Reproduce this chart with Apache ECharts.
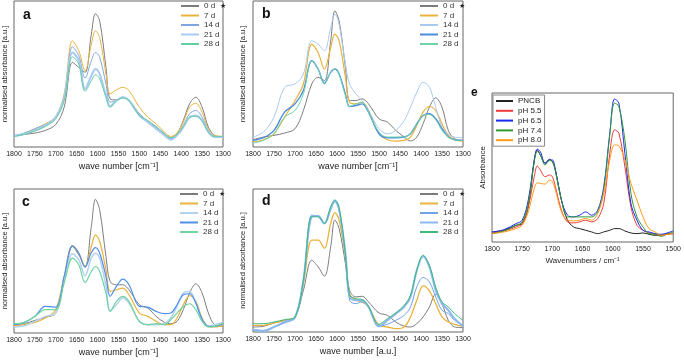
<!DOCTYPE html>
<html>
<head>
<meta charset="utf-8">
<script src="https://cdn.jsdelivr.net/npm/echarts@6/dist/echarts.min.js"></script>
<style>
html, body { margin: 0; padding: 0; background: #fff; }
#chart { width: 684px; height: 360px; }
</style>
</head>
<body>
<div id="chart"></div>
<script>
// wave numbers (cm-1) sampled for panels a-d and e
const waveAD = [1800,1775,1750,1725,1700,1680,1660,1645,1630,1615,1605,1595,1580,1570,1555,1540,1525,1500,1480,1460,1440,1425,1410,1395,1380,1365,1350,1335,1320,1300];
const waveE = [1800,1780,1760,1750,1740,1730,1725,1720,1712,1705,1700,1695,1685,1675,1665,1655,1645,1635,1625,1615,1605,1597,1590,1580,1570,1560,1550,1540,1530,1520,1510,1500];

const days = ['0 d', '7 d', '14 d', '21 d', '28 d'];
const phLabels = ['PNCB', 'pH 5.5', 'pH 6.5', 'pH 7.4', 'pH 8.0'];

// panel a
const a0d = [32,38,42,50,68,120,255,240,225,340,402,380,240,145,142,150,140,100,75,60,40,28,40,80,130,150,120,60,35,30];
const a7d = [32,42,55,70,92,160,320,290,230,310,350,330,220,160,172,180,170,120,90,70,45,32,42,75,120,132,105,55,35,32];
const a14d = [35,42,55,68,88,150,302,275,208,260,285,270,190,135,140,148,140,100,78,60,40,25,35,65,100,110,90,50,32,30];
const a21d = [32,40,50,65,90,150,285,260,175,215,235,220,155,122,140,150,140,95,75,55,35,22,35,60,90,95,80,45,30,30];
const a28d = [32,38,48,62,85,140,272,250,168,200,218,205,150,120,138,148,140,95,80,62,40,28,38,62,88,92,78,45,32,32];

// panel b
const b0d = [22,30,35,42,55,110,190,210,200,320,410,380,240,140,140,145,130,85,75,50,30,18,30,70,120,148,120,50,25,20];
const b7d = [15,22,40,90,140,190,310,285,235,300,340,320,210,135,130,135,110,40,22,18,20,30,65,105,122,110,70,35,22,18];
const b14d = [30,45,90,180,190,220,320,310,290,360,400,370,250,190,160,140,110,55,40,50,80,120,165,195,180,120,60,40,30,28];
const b21d = [20,28,50,105,130,170,260,235,192,225,235,220,160,122,125,130,105,40,28,28,30,40,70,95,100,85,55,30,22,20];
const b28d = [12,20,40,90,110,160,260,235,190,225,235,218,155,122,130,135,105,45,30,30,30,40,68,95,98,82,50,30,22,20];

// panel c
const c0d = [25,28,38,47,60,160,260,235,200,320,402,370,230,155,145,145,130,85,75,50,32,28,35,70,120,148,120,60,25,20];
const c7d = [22,25,32,45,70,170,262,240,200,260,295,275,190,125,130,135,115,60,50,35,25,25,45,85,112,95,45,20,18,22];
const c14d = [18,22,35,50,60,160,238,220,172,225,240,225,140,65,85,105,90,35,25,25,28,45,80,120,125,90,40,20,25,32];
const c21d = [25,32,50,80,78,170,262,240,198,242,257,240,170,110,140,162,145,80,78,65,58,60,85,115,118,90,42,20,20,28];
const c28d = [28,32,50,70,70,150,225,205,152,185,200,185,120,65,95,110,95,35,25,28,25,40,60,80,88,70,35,18,20,30];

// panel d
const d0d = [15,17,27,35,45,125,215,195,167,255,335,310,205,125,105,107,90,57,50,30,17,15,25,45,75,113,85,35,15,13];
const d7d = [20,20,27,35,45,145,275,275,250,325,357,335,225,115,95,90,75,20,15,10,15,45,95,138,123,85,45,30,23,17];
const d14d = [7,5,15,27,43,155,350,345,325,365,390,365,235,95,85,90,75,17,23,35,50,75,135,163,150,105,65,55,35,20];
const d21d = [7,3,15,30,43,155,345,347,325,370,393,367,235,105,95,95,75,17,35,55,75,105,185,227,195,125,85,65,40,17];
const d28d = [25,25,30,37,45,155,345,345,325,375,395,373,235,110,100,97,77,23,40,57,80,110,185,230,200,135,90,75,55,35];

// panel e
const ePNCB = [30,35,50,55,105,245,275,260,235,247,240,215,125,65,45,40,35,30,25,30,35,40,40,33,27,25,27,23,20,20,25,25];
const ePH55 = [27,33,45,55,105,195,227,215,195,200,195,165,95,60,57,60,65,60,70,115,265,335,325,225,105,50,35,27,23,20,23,25];
const ePH65 = [30,37,55,65,125,245,277,270,235,245,245,215,125,80,75,80,90,80,95,165,325,427,415,265,115,65,35,30,25,23,27,33];
const ePH74 = [25,33,50,60,115,240,270,260,230,243,240,210,125,75,75,75,75,75,90,155,320,415,405,305,145,75,45,25,23,17,23,30];
const ePH80 = [25,30,40,50,90,160,177,175,173,185,180,155,90,65,63,65,70,65,85,145,245,290,287,245,175,125,75,40,30,20,23,25];

const font = 'Liberation Sans, Arial, sans-serif';
const GRAY = '#7c7c7c', GOLD = '#e9b23c';

let chart = echarts.init(document.getElementById('chart'));

function line(panel, idx, label, xs, ys, color, width) {
  return {
    name: panel + '|' + label,
    type: 'line',
    xAxisIndex: idx,
    yAxisIndex: idx,
    data: xs.map((x, i) => [x, ys[i]]),
    symbol: 'none',
    smooth: 0.35,
    silent: true,
    lineStyle: { color: color, width: width },
    itemStyle: { color: color }
  };
}

function xAxis(idx, min, name) {
  return {
    gridIndex: idx, type: 'value', inverse: true, min: min, max: 1800, interval: 50,
    name: name, nameLocation: 'middle', nameGap: 15,
    nameTextStyle: { fontSize: idx === 4 ? 8 : 9, color: '#222', fontFamily: font },
    axisLine: { show: false }, axisTick: { show: false }, splitLine: { show: false },
    axisLabel: { fontSize: 7, color: '#222', margin: 4, fontFamily: font, formatter: v => String(v) }
  };
}

function yAxis(idx, max, name, gap) {
  return {
    gridIndex: idx, type: 'value', min: 0, max: max,
    name: name, nameLocation: 'middle', nameRotate: 90, nameGap: gap,
    nameTextStyle: { fontSize: idx === 4 ? 8 : 7.5, color: '#222', fontFamily: font },
    axisLine: { show: false }, axisTick: { show: false },
    axisLabel: { show: false }, splitLine: { show: false }
  };
}

function dayLegend(panel, left, top) {
  return {
    left: left, top: top, orient: 'vertical', padding: 0,
    itemWidth: 18, itemHeight: 8, itemGap: 1.5, selectedMode: false,
    itemStyle: { opacity: 0 },
    data: days.map(d => panel + '|' + d),
    formatter: name => {
      let t = name.split('|')[1];
      return t === '0 d' ? t + '  {s|★}' : t;
    },
    textStyle: {
      fontSize: 8, lineHeight: 8, color: '#333', fontFamily: font,
      rich: { s: { fontSize: 7, color: '#222' } }
    }
  };
}

const grids = [
  { left: 13, top: 1, width: 210, height: 146 },
  { left: 253, top: 1, width: 210, height: 146 },
  { left: 13, top: 189, width: 210, height: 144 },
  { left: 253, top: 189, width: 210, height: 143 },
  { left: 492, top: 93, width: 184, height: 149 }
].map(g => Object.assign(g, { show: true, borderColor: '#666', borderWidth: 1 }));

const series = [
  line('a', 0, '0 d', waveAD, a0d, GRAY, 1),
  line('a', 0, '7 d', waveAD, a7d, GOLD, 1),
  line('a', 0, '14 d', waveAD, a14d, '#7ea6e0', 1),
  line('a', 0, '21 d', waveAD, a21d, '#a9cbf2', 2),
  line('a', 0, '28 d', waveAD, a28d, '#62cfa0', 1),

  line('b', 1, '0 d', waveAD, b0d, GRAY, 1),
  line('b', 1, '7 d', waveAD, b7d, GOLD, 1.2),
  line('b', 1, '14 d', waveAD, b14d, '#a9c9ef', 1),
  line('b', 1, '21 d', waveAD, b21d, '#4a8de0', 1.4),
  line('b', 1, '28 d', waveAD, b28d, '#6fd4a8', 1),

  line('c', 2, '0 d', waveAD, c0d, GRAY, 1),
  line('c', 2, '7 d', waveAD, c7d, GOLD, 1.2),
  line('c', 2, '14 d', waveAD, c14d, '#b3d2f2', 1.5),
  line('c', 2, '21 d', waveAD, c21d, '#4f8fe8', 1.2),
  line('c', 2, '28 d', waveAD, c28d, '#6fd4a0', 1.2),

  line('d', 3, '0 d', waveAD, d0d, GRAY, 1),
  line('d', 3, '7 d', waveAD, d7d, GOLD, 1.3),
  line('d', 3, '14 d', waveAD, d14d, '#6fa3e6', 1),
  line('d', 3, '21 d', waveAD, d21d, '#8ab8f0', 2),
  line('d', 3, '28 d', waveAD, d28d, '#3cba7c', 1),

  line('e', 4, 'PNCB', waveE, ePNCB, '#222222', 1),
  line('e', 4, 'pH 5.5', waveE, ePH55, '#f03a3a', 1),
  line('e', 4, 'pH 6.5', waveE, ePH65, '#1a2cf0', 1),
  line('e', 4, 'pH 7.4', waveE, ePH74, '#2f9a35', 1),
  line('e', 4, 'pH 8.0', waveE, ePH80, '#ff9a1a', 1)
];

const panelLabel = (text, x, y, size) => ({
  type: 'text', left: x, top: y,
  style: { text: text, fontSize: size, fontWeight: 'bold', fontFamily: font, fill: '#111' }
});

chart.setOption({
  animation: false,
  grid: grids,
  xAxis: [
    xAxis(0, 1300, 'wave number [cm⁻¹]'),
    xAxis(1, 1300, 'wave number [cm⁻¹]'),
    xAxis(2, 1300, 'wave number [cm⁻¹]'),
    xAxis(3, 1300, 'wave number [a.u.]'),
    xAxis(4, 1500, 'Wavenumbers / cm⁻¹')
  ],
  yAxis: [
    yAxis(0, 440, 'normalised absorbance [a.u.]', 5),
    yAxis(1, 440, 'normalised absorbance [a.u.]', 6),
    yAxis(2, 433, 'normalised absorbance [a.u.]', 5),
    yAxis(3, 428, 'normalised absorbance [a.u.]', 6),
    yAxis(4, 445, 'Absorbance', 5)
  ],
  legend: [
    dayLegend('a', 180, 2),
    dayLegend('b', 419, 2),
    dayLegend('c', 179, 190),
    dayLegend('d', 419, 190),
    {
      left: 493, top: 95, orient: 'vertical', padding: [2, 3, 2, 2],
      borderColor: '#888', borderWidth: 1,
      itemWidth: 17, itemHeight: 8, itemGap: 1.8, selectedMode: false,
      itemStyle: { opacity: 0 },
      data: phLabels.map(p => 'e|' + p),
      formatter: name => name.split('|')[1],
      textStyle: { fontSize: 8, lineHeight: 8, color: '#222', fontFamily: font }
    }
  ],
  graphic: [
    panelLabel('a', 23, 8, 14),
    panelLabel('b', 262, 7, 14),
    panelLabel('c', 22, 195, 14),
    panelLabel('d', 262, 194, 14),
    panelLabel('e', 471, 87, 12)
  ],
  series: series
});
</script>
</body>
</html>
